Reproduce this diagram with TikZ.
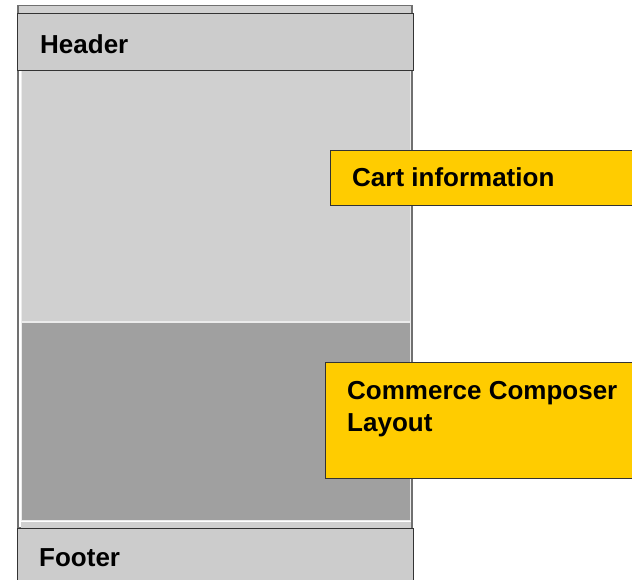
\documentclass[tikz,border=0pt]{standalone}
\usepackage{fontspec}
\setmainfont{Liberation Sans}
\definecolor{panelgray}{HTML}{CCCCCC}
\definecolor{areagray}{HTML}{D0D0D0}
\definecolor{darkarea}{HTML}{A0A0A0}
\definecolor{framegray}{HTML}{707070}
\definecolor{edgegray}{HTML}{333333}
\definecolor{calloutyellow}{HTML}{FFCC00}
\tikzset{
  bar/.style={fill=panelgray, draw=edgegray, line width=1pt},
  region/.style={draw=white!92!black, line width=1pt},
  callout/.style={fill=calloutyellow, draw=edgegray, line width=1pt},
  label/.style={font=\fontsize{26}{32}\selectfont\bfseries, anchor=base west, inner sep=0pt, align=left}
}
\begin{document}
\begin{tikzpicture}[x=1pt,y=-1pt]
\useasboundingbox (0,0) rectangle (632,580);
% page container
\path[draw=framegray, line width=1.8pt, fill=white] (18,6) rectangle (412,528);
\path[fill=areagray] (19,6.5) rectangle (411,13);
% content regions
\path[region, fill=areagray] (21.5,71) rectangle (410.5,321);
\path[region, fill=darkarea] (21.5,322.5) rectangle (410.5,520);
\path[fill=areagray] (21,521.5) rectangle (411,528);
% header and footer bars
\node[bar, minimum width=396pt, minimum height=56.5pt, inner sep=0pt, anchor=north west] (header) at (17,13.5) {};
\node[bar, minimum width=396pt, minimum height=60pt, inner sep=0pt, anchor=north west] (footer) at (17,528) {};
\node[label] (headertext) at (40,53.5) {Header};
\node[label] (footertext) at (39,566) {Footer};
% callouts
\node[callout, minimum width=310pt, minimum height=55pt, inner sep=0pt, anchor=north west] (cart) at (330,150) {};
\node[callout, minimum width=315pt, minimum height=116pt, inner sep=0pt, anchor=north west] (layout) at (325,362) {};
\node[label] (carttext) at (352,187) {Cart information};
% base anchor of a two-line node sits on its last line
\node[label] (layouttext) at (347,431) {Commerce Composer\\Layout};
\end{tikzpicture}
\end{document}
